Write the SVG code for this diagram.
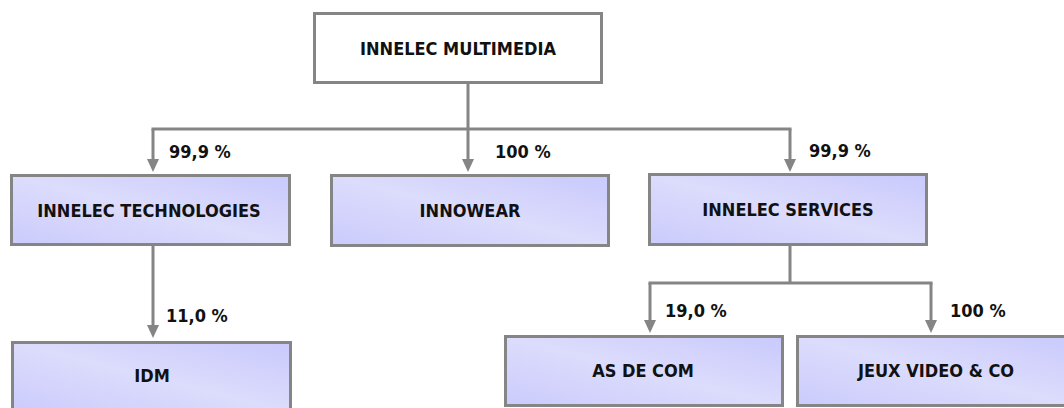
<svg xmlns="http://www.w3.org/2000/svg" width="1064" height="408" viewBox="0 0 1064 408">
<style>
  .box { fill: url(#grad); stroke: #858585; stroke-width: 3; }
  .top { fill: #ffffff; stroke: #858585; stroke-width: 3; }
  .name { font-family: "DejaVu Sans Condensed", "DejaVu Sans", sans-serif; font-stretch: condensed; font-weight: bold; font-size: 18px; fill: #111111; text-anchor: middle; }
  .pct { font-family: "DejaVu Sans Condensed", "DejaVu Sans", sans-serif; font-stretch: condensed; font-weight: bold; font-size: 18px; fill: #111111; }
  .conn line { stroke: #858585; stroke-width: 3; fill: none; }
</style>
<defs>
  <linearGradient id="grad" x1="1" y1="0" x2="0" y2="1">
    <stop offset="0" stop-color="#c9c9fd"/>
    <stop offset="0.5" stop-color="#dcdcfc"/>
    <stop offset="1" stop-color="#cbcbfd"/>
  </linearGradient>
  <marker id="arrow" markerUnits="userSpaceOnUse" markerWidth="13" markerHeight="12" viewBox="0 0 13 12" refX="0" refY="6" orient="auto">
    <path d="M0,0 L13,6 L0,12 z" fill="#858585"/>
  </marker>
</defs>
<rect width="1064" height="408" fill="#ffffff"/>
<g id="connectors" class="conn">
  <line x1="468" y1="84" x2="468" y2="129"/>
  <line x1="151.5" y1="129" x2="791.5" y2="129"/>
  <line x1="153" y1="129" x2="153" y2="159" marker-end="url(#arrow)"/>
  <line x1="468" y1="129" x2="468" y2="159" marker-end="url(#arrow)"/>
  <line x1="790" y1="129" x2="790" y2="159" marker-end="url(#arrow)"/>
  <line x1="153" y1="246" x2="153" y2="325" marker-end="url(#arrow)"/>
  <line x1="790" y1="246" x2="790" y2="283"/>
  <line x1="648.5" y1="283" x2="932.5" y2="283"/>
  <line x1="650" y1="283" x2="650" y2="320" marker-end="url(#arrow)"/>
  <line x1="931" y1="283" x2="931" y2="320" marker-end="url(#arrow)"/>
</g>
<g id="labels">
  <text class="pct" x="169" y="158">99,9 %</text>
  <text class="pct" x="495" y="158">100 %</text>
  <text class="pct" x="809" y="157">99,9 %</text>
  <text class="pct" x="166" y="322">11,0 %</text>
  <text class="pct" x="665" y="317">19,0 %</text>
  <text class="pct" x="950" y="317">100 %</text>
</g>
<g id="node-innelec-multimedia">
  <rect class="top" x="314.5" y="13.5" width="287" height="69"/>
  <text class="name" x="458" y="54.5">INNELEC MULTIMEDIA</text>
</g>
<g id="node-innelec-technologies">
  <rect class="box" x="11.5" y="175.5" width="278" height="69"/>
  <text class="name" x="149" y="216.5">INNELEC TECHNOLOGIES</text>
</g>
<g id="node-innowear">
  <rect class="box" x="331.5" y="175.5" width="277" height="70"/>
  <text class="name" x="470" y="216.5">INNOWEAR</text>
</g>
<g id="node-innelec-services">
  <rect class="box" x="649.5" y="174.5" width="277" height="70"/>
  <text class="name" x="788" y="215.5">INNELEC SERVICES</text>
</g>
<g id="node-idm">
  <rect class="box" x="12.5" y="342.5" width="278" height="70"/>
  <text class="name" x="152" y="382">IDM</text>
</g>
<g id="node-as-de-com">
  <rect class="box" x="505.5" y="336.5" width="277" height="69"/>
  <text class="name" x="643" y="376.5">AS DE COM</text>
</g>
<g id="node-jeux-video">
  <rect class="box" x="797.5" y="336.5" width="280" height="69"/>
  <text class="name" x="936" y="376.5">JEUX VIDEO &amp; CO</text>
</g>
</svg>
